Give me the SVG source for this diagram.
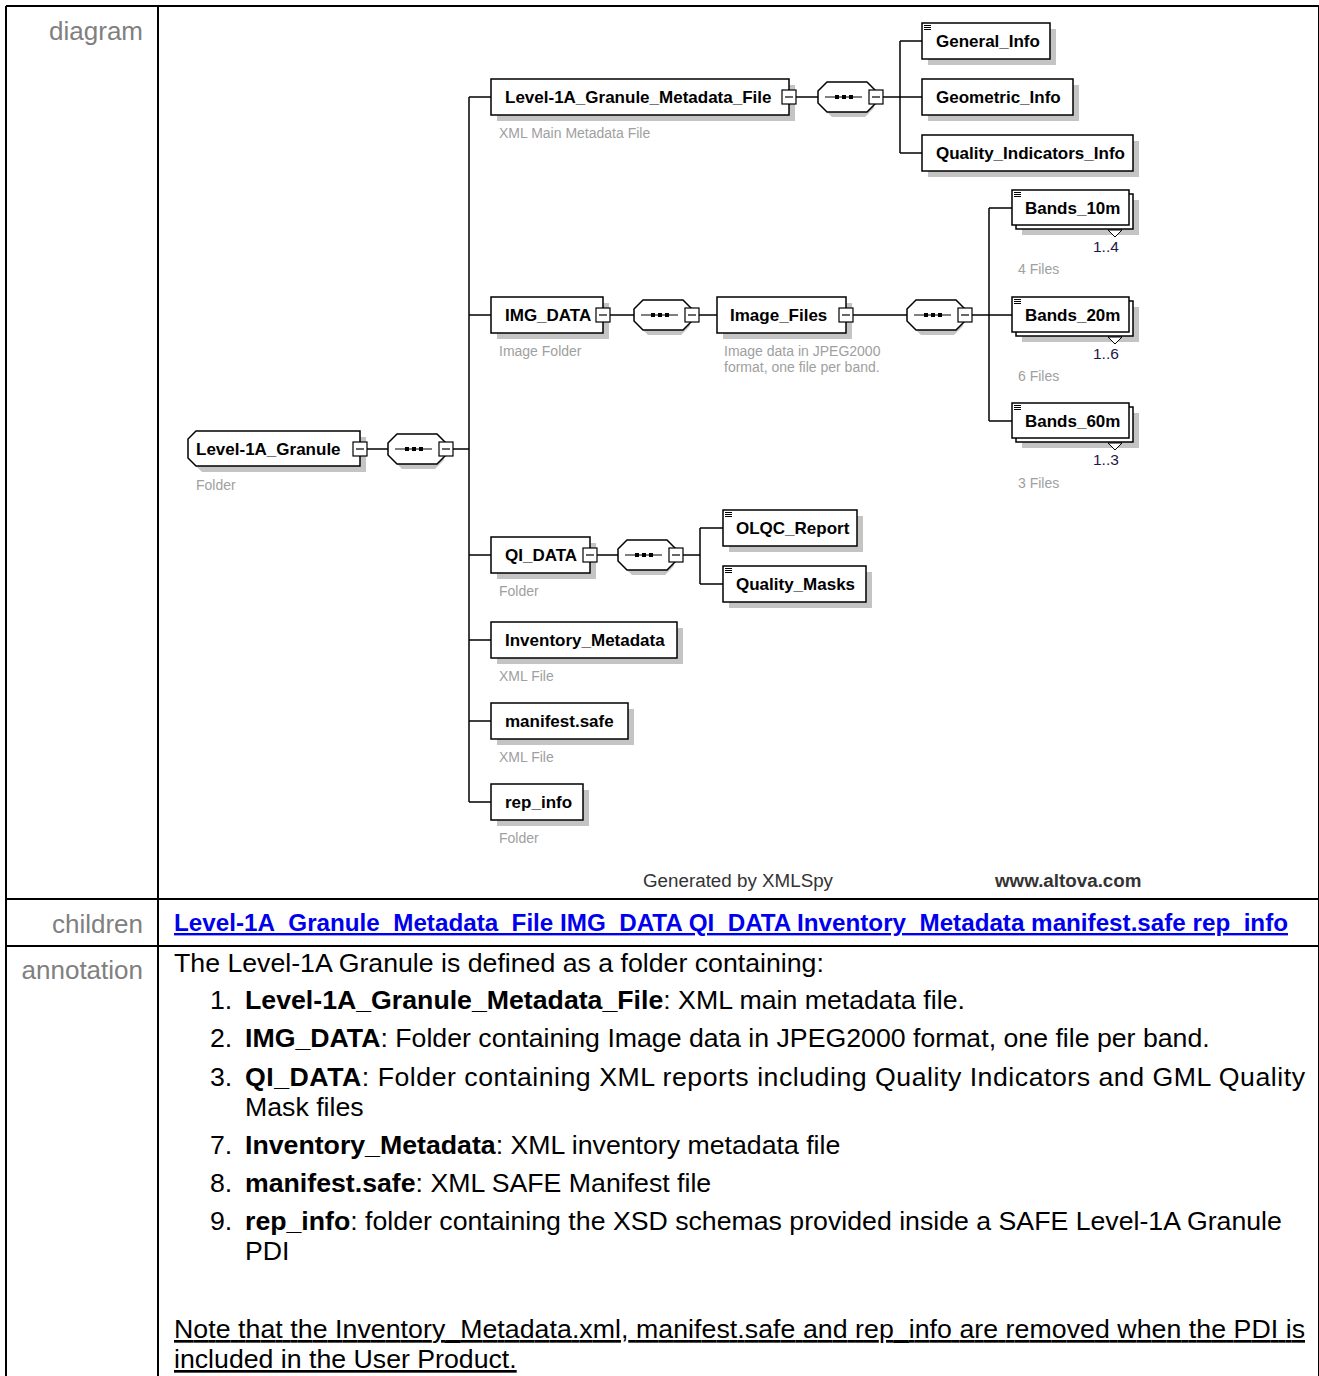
<svg xmlns="http://www.w3.org/2000/svg" xmlns:xlink="http://www.w3.org/1999/xlink" width="1319" height="1376" viewBox="0 0 1319 1376">
<style>
.bg{fill:#fff}
.tbl{stroke:#000;stroke-width:2;fill:none}
.rowlbl{font-family:"Liberation Sans",Arial,sans-serif;font-size:26px;fill:#808080;text-anchor:end}
.node{fill:#fff;stroke:#000;stroke-width:1.5}
.shadow{fill:#c4c4c4}
.lbl{font-family:"Liberation Sans",Arial,sans-serif;font-weight:bold;font-size:17px;fill:#000}
.desc{font-family:"Liberation Sans",Arial,sans-serif;font-size:14px;fill:#a0a0a0}
.mult{font-family:"Liberation Sans",Arial,sans-serif;font-size:15.5px;fill:#1e1646}
.conn{stroke:#000;stroke-width:1.5;fill:none}
.foot{font-family:"Liberation Sans",Arial,sans-serif;font-size:18.8px;fill:#333}
.link{font-family:"Liberation Sans",Arial,sans-serif;font-size:24px;font-weight:bold;fill:#0000ee;text-decoration:underline}
.ann{font-family:"Liberation Sans",Arial,sans-serif;font-size:26.7px;fill:#000}
.b{font-weight:bold}
</style>
<defs>
  <g id="mb">
    <rect x="-7" y="-7" width="14" height="14" fill="#fff" stroke="#000" stroke-width="1.2"/>
    <line x1="-4" y1="0" x2="4" y2="0" stroke="#000" stroke-width="1.2"/>
  </g>
  <g id="seq">
    <polygon points="5,-9 14,-18 47,-18 56,-9 56,3 47,12 14,12 5,3" transform="translate(0,8)" class="shadow"/>
    <polygon points="0,-6 9,-15 49,-15 58,-6 58,6 49,15 9,15 0,6" class="node"/>
    <line x1="7" y1="0" x2="44" y2="0" stroke="#000" stroke-width="1.2"/>
    <rect x="17" y="-2" width="4" height="4" fill="#000"/>
    <rect x="24" y="-2" width="4" height="4" fill="#000"/>
    <rect x="31" y="-2" width="4" height="4" fill="#000"/>
    <use xlink:href="#mb" x="58" y="0"/>
  </g>
  <g id="ico">
    <line x1="0" y1="0.5" x2="7" y2="0.5" stroke="#000" stroke-width="1"/>
    <line x1="0" y1="2.5" x2="7" y2="2.5" stroke="#000" stroke-width="1"/>
    <line x1="0" y1="4.5" x2="7" y2="4.5" stroke="#000" stroke-width="1"/>
  </g>
</defs>
<rect class="bg" x="0" y="0" width="1319" height="1376"/>

<g id="table">
  <line class="tbl" x1="6" y1="6" x2="1319" y2="6"/>
  <line class="tbl" x1="6" y1="6" x2="6" y2="1376"/>
  <line class="tbl" x1="158" y1="6" x2="158" y2="1376"/>
  <line class="tbl" x1="1319" y1="6" x2="1319" y2="1376"/>
  <line class="tbl" x1="6" y1="899" x2="1319" y2="899"/>
  <line class="tbl" x1="6" y1="946" x2="1319" y2="946"/>
  <text class="rowlbl" x="143" y="40">diagram</text>
  <text class="rowlbl" x="143" y="933">children</text>
  <text class="rowlbl" x="143" y="979">annotation</text>
</g>

<g id="connectors">
  <line class="conn" x1="367" y1="449" x2="388" y2="449"/>
  <line class="conn" x1="453" y1="449" x2="469" y2="449"/>
  <line class="conn" x1="469" y1="97" x2="469" y2="802"/>
  <line class="conn" x1="469" y1="97" x2="491" y2="97"/>
  <line class="conn" x1="469" y1="315" x2="491" y2="315"/>
  <line class="conn" x1="469" y1="555" x2="491" y2="555"/>
  <line class="conn" x1="469" y1="640" x2="491" y2="640"/>
  <line class="conn" x1="469" y1="721" x2="491" y2="721"/>
  <line class="conn" x1="469" y1="802" x2="491" y2="802"/>
  <line class="conn" x1="796" y1="97" x2="818" y2="97"/>
  <line class="conn" x1="883" y1="97" x2="900" y2="97"/>
  <line class="conn" x1="900" y1="41" x2="900" y2="153"/>
  <line class="conn" x1="900" y1="41" x2="922" y2="41"/>
  <line class="conn" x1="900" y1="97" x2="922" y2="97"/>
  <line class="conn" x1="900" y1="153" x2="922" y2="153"/>
  <line class="conn" x1="610" y1="315" x2="634" y2="315"/>
  <line class="conn" x1="699" y1="315" x2="717" y2="315"/>
  <line class="conn" x1="853" y1="315" x2="907" y2="315"/>
  <line class="conn" x1="972" y1="315" x2="989" y2="315"/>
  <line class="conn" x1="989" y1="208" x2="989" y2="421"/>
  <line class="conn" x1="989" y1="208" x2="1012" y2="208"/>
  <line class="conn" x1="989" y1="315" x2="1012" y2="315"/>
  <line class="conn" x1="989" y1="421" x2="1012" y2="421"/>
  <line class="conn" x1="597" y1="555" x2="618" y2="555"/>
  <line class="conn" x1="683" y1="555" x2="700" y2="555"/>
  <line class="conn" x1="700" y1="528" x2="700" y2="584"/>
  <line class="conn" x1="700" y1="528" x2="723" y2="528"/>
  <line class="conn" x1="700" y1="584" x2="723" y2="584"/>
</g>

<g id="n_granule">
  <polygon class="shadow" points="202,437 366,437 366,472 202,472 194,464 194,445"/>
  <polygon class="node" points="196,431 360,431 360,466 196,466 188,458 188,439"/>
  <text class="lbl" x="196" y="455">Level-1A_Granule</text>
  <use xlink:href="#mb" x="360" y="449"/>
  <text class="desc" x="196" y="490">Folder</text>
</g>
<g id="seq_granule"><use xlink:href="#seq" x="388" y="449"/></g>

<g id="n_metafile">
  <rect class="shadow" x="497" y="85" width="298" height="36"/>
  <rect class="node" x="491" y="79" width="298" height="36"/>
  <text class="lbl" x="505" y="103">Level-1A_Granule_Metadata_File</text>
  <use xlink:href="#mb" x="789" y="97"/>
  <text class="desc" x="499" y="138">XML Main Metadata File</text>
</g>
<g id="seq_metafile"><use xlink:href="#seq" x="818" y="97"/></g>

<g id="n_general">
  <rect class="shadow" x="928" y="29" width="128" height="36"/>
  <rect class="node" x="922" y="23" width="128" height="36"/>
  <use xlink:href="#ico" x="924" y="25"/>
  <text class="lbl" x="936" y="47">General_Info</text>
</g>
<g id="n_geometric">
  <rect class="shadow" x="928" y="85" width="151" height="36"/>
  <rect class="node" x="922" y="79" width="151" height="36"/>
  <text class="lbl" x="936" y="103">Geometric_Info</text>
</g>
<g id="n_quality">
  <rect class="shadow" x="928" y="141" width="211" height="36"/>
  <rect class="node" x="922" y="135" width="211" height="36"/>
  <text class="lbl" x="936" y="159">Quality_Indicators_Info</text>
</g>

<g id="n_imgdata">
  <rect class="shadow" x="497" y="303" width="112" height="36"/>
  <rect class="node" x="491" y="297" width="112" height="36"/>
  <text class="lbl" x="505" y="321">IMG_DATA</text>
  <use xlink:href="#mb" x="603" y="315"/>
  <text class="desc" x="499" y="356">Image Folder</text>
</g>
<g id="seq_imgdata"><use xlink:href="#seq" x="634" y="315"/></g>

<g id="n_imagefiles">
  <rect class="shadow" x="723" y="303" width="129" height="36"/>
  <rect class="node" x="717" y="297" width="129" height="36"/>
  <text class="lbl" x="730" y="321">Image_Files</text>
  <use xlink:href="#mb" x="846" y="315"/>
  <text class="desc" x="724" y="356">Image data in JPEG2000</text>
  <text class="desc" x="724" y="372">format, one file per band.</text>
</g>
<g id="seq_imagefiles"><use xlink:href="#seq" x="907" y="315"/></g>

<g id="n_bands10">
  <rect class="shadow" x="1022" y="200" width="117" height="35"/>
  <rect class="node" x="1016" y="194" width="117" height="35"/>
  <rect class="node" x="1012" y="190" width="117" height="35"/>
  <polygon points="1108,230 1115,237 1122,230" fill="#fff" stroke="#000" stroke-width="1"/>
  <use xlink:href="#ico" x="1014" y="192"/>
  <text class="lbl" x="1025" y="214">Bands_10m</text>
  <text class="mult" x="1093" y="252">1..4</text>
  <text class="desc" x="1018" y="274">4 Files</text>
</g>
<g id="n_bands20">
  <rect class="shadow" x="1022" y="307" width="117" height="35"/>
  <rect class="node" x="1016" y="301" width="117" height="35"/>
  <rect class="node" x="1012" y="297" width="117" height="35"/>
  <polygon points="1108,337 1115,344 1122,337" fill="#fff" stroke="#000" stroke-width="1"/>
  <use xlink:href="#ico" x="1014" y="299"/>
  <text class="lbl" x="1025" y="321">Bands_20m</text>
  <text class="mult" x="1093" y="359">1..6</text>
  <text class="desc" x="1018" y="381">6 Files</text>
</g>
<g id="n_bands60">
  <rect class="shadow" x="1022" y="413" width="117" height="35"/>
  <rect class="node" x="1016" y="407" width="117" height="35"/>
  <rect class="node" x="1012" y="403" width="117" height="35"/>
  <polygon points="1108,443 1115,450 1122,443" fill="#fff" stroke="#000" stroke-width="1"/>
  <use xlink:href="#ico" x="1014" y="405"/>
  <text class="lbl" x="1025" y="427">Bands_60m</text>
  <text class="mult" x="1093" y="465">1..3</text>
  <text class="desc" x="1018" y="488">3 Files</text>
</g>

<g id="n_qidata">
  <rect class="shadow" x="497" y="543" width="99" height="36"/>
  <rect class="node" x="491" y="537" width="99" height="36"/>
  <text class="lbl" x="505" y="561">QI_DATA</text>
  <use xlink:href="#mb" x="590" y="555"/>
  <text class="desc" x="499" y="596">Folder</text>
</g>
<g id="seq_qidata"><use xlink:href="#seq" x="618" y="555"/></g>

<g id="n_olqc">
  <rect class="shadow" x="729" y="516" width="134" height="36"/>
  <rect class="node" x="723" y="510" width="134" height="36"/>
  <use xlink:href="#ico" x="725" y="512"/>
  <text class="lbl" x="736" y="534">OLQC_Report</text>
</g>
<g id="n_qmasks">
  <rect class="shadow" x="729" y="572" width="143" height="36"/>
  <rect class="node" x="723" y="566" width="143" height="36"/>
  <use xlink:href="#ico" x="725" y="568"/>
  <text class="lbl" x="736" y="590">Quality_Masks</text>
</g>

<g id="n_inventory">
  <rect class="shadow" x="497" y="628" width="186" height="36"/>
  <rect class="node" x="491" y="622" width="186" height="36"/>
  <text class="lbl" x="505" y="646">Inventory_Metadata</text>
  <text class="desc" x="499" y="681">XML File</text>
</g>
<g id="n_manifest">
  <rect class="shadow" x="497" y="709" width="137" height="36"/>
  <rect class="node" x="491" y="703" width="137" height="36"/>
  <text class="lbl" x="505" y="727">manifest.safe</text>
  <text class="desc" x="499" y="762">XML File</text>
</g>
<g id="n_repinfo">
  <rect class="shadow" x="497" y="790" width="92" height="36"/>
  <rect class="node" x="491" y="784" width="92" height="36"/>
  <text class="lbl" x="505" y="808">rep_info</text>
  <text class="desc" x="499" y="843">Folder</text>
</g>

<g id="footer">
  <text class="foot" x="643" y="887">Generated by XMLSpy</text>
  <text class="foot" x="995" y="887" font-weight="bold">www.altova.com</text>
</g>

<g id="children">
  <text class="link" x="174" y="931" textLength="1114" lengthAdjust="spacingAndGlyphs">Level-1A_Granule_Metadata_File IMG_DATA QI_DATA Inventory_Metadata manifest.safe rep_info</text>
</g>

<g id="annotation">
  <text class="ann" x="174" y="972">The Level-1A Granule is defined as a folder containing:</text>
  <text class="ann" x="210" y="1009">1.</text>
  <text class="ann" x="245" y="1009"><tspan class="b">Level-1A_Granule_Metadata_File</tspan>: XML main metadata file.</text>
  <text class="ann" x="210" y="1047">2.</text>
  <text class="ann" x="245" y="1047"><tspan class="b">IMG_DATA</tspan>: Folder containing Image data in JPEG2000 format, one file per band.</text>
  <text class="ann" x="210" y="1086">3.</text>
  <text class="ann" x="245" y="1086" textLength="1060" lengthAdjust="spacing"><tspan class="b">QI_DATA</tspan>: Folder containing XML reports including Quality Indicators and GML Quality</text>
  <text class="ann" x="245" y="1116">Mask files</text>
  <text class="ann" x="210" y="1154">7.</text>
  <text class="ann" x="245" y="1154"><tspan class="b">Inventory_Metadata</tspan>: XML inventory metadata file</text>
  <text class="ann" x="210" y="1192">8.</text>
  <text class="ann" x="245" y="1192"><tspan class="b">manifest.safe</tspan>: XML SAFE Manifest file</text>
  <text class="ann" x="210" y="1230">9.</text>
  <text class="ann" x="245" y="1230"><tspan class="b">rep_info</tspan>: folder containing the XSD schemas provided inside a SAFE Level-1A Granule</text>
  <text class="ann" x="245" y="1260">PDI</text>
  <text class="ann" x="174" y="1338" text-decoration="underline" textLength="1131" lengthAdjust="spacing">Note that the Inventory_Metadata.xml, manifest.safe and rep_info are removed when the PDI is</text>
  <text class="ann" x="174" y="1368" text-decoration="underline">included in the User Product.</text>
</g>
</svg>
